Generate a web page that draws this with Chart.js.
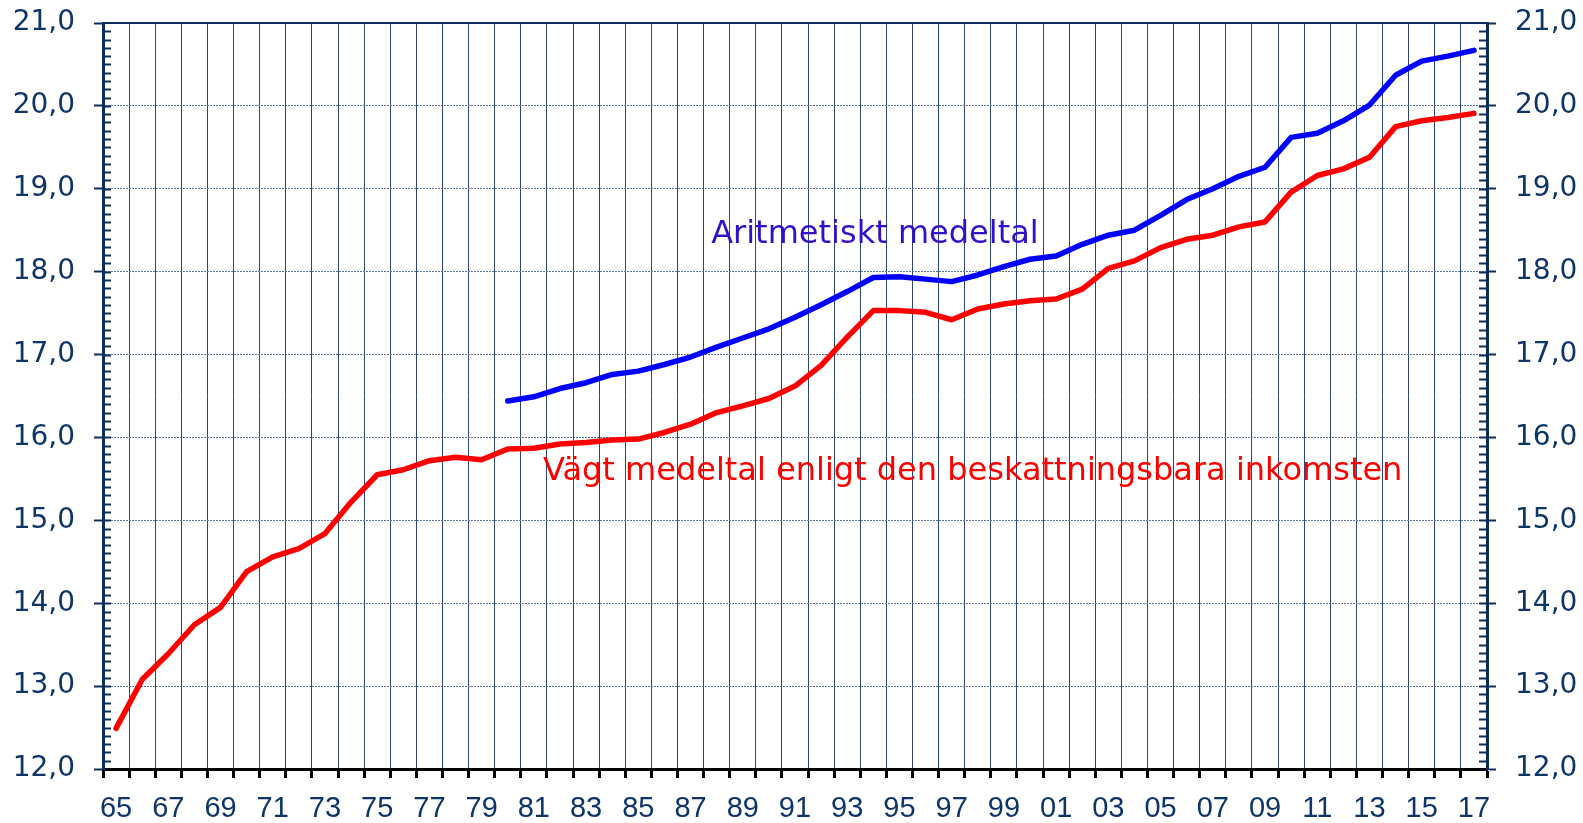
<!DOCTYPE html>
<html>
<head>
<meta charset="utf-8">
<script src="https://cdn.jsdelivr.net/npm/chart.js@4.4.1/dist/chart.umd.min.js"></script>
<style>
body { margin: 0; background: #ffffff; }
#ruta { width: 1583px; height: 823px; position: relative; }
</style>
</head>
<body>
<div id="ruta"><canvas id="diagram"></canvas></div>
<script>
// år 1965-2017, etiketter visas vartannat år
var ar = ['65','66','67','68','69','70','71','72','73','74','75','76','77','78','79',
	'80','81','82','83','84','85','86','87','88','89','90','91','92','93','94','95','96','97','98','99',
	'00','01','02','03','04','05','06','07','08','09','10','11','12','13','14','15','16','17'];

// vägt medeltal (röd), 1965-2017
var vagt = [12.49, 13.08, 13.39, 13.74, 13.95, 14.38, 14.56, 14.66, 14.84, 15.22,
	15.55, 15.61, 15.72, 15.76, 15.73, 15.86, 15.87, 15.92, 15.94, 15.97,
	15.98, 16.06, 16.16, 16.30, 16.38, 16.47, 16.62, 16.87, 17.21, 17.53,
	17.53, 17.51, 17.42, 17.55, 17.61, 17.65, 17.67, 17.79, 18.04, 18.13,
	18.29, 18.39, 18.44, 18.54, 18.60, 18.96, 19.16, 19.24, 19.38, 19.75,
	19.82, 19.86, 19.91];

// aritmetiskt medeltal (blå), börjar 1980
var aritm = [null, null, null, null, null, null, null, null, null, null, null, null, null, null, null,
	16.44, 16.49, 16.59, 16.66, 16.76, 16.80, 16.88, 16.97, 17.09, 17.20,
	17.31, 17.45, 17.60, 17.76, 17.93, 17.94, 17.91, 17.88,
	17.96, 18.06, 18.15, 18.19, 18.33, 18.44, 18.50, 18.68, 18.87, 19.00,
	19.15, 19.26, 19.62, 19.67, 19.82, 20.01, 20.37, 20.54, 20.60, 20.67];

var yMin = 12;
var yMax = 21;

// texter i diagrammet: [text, kategoriindex, värde (baslinje)]
var textAritm = ['Aritmetiskt medeltal', 22.79, 18.35];
var textVagt = ['Vägt medeltal enligt den beskattningsbara inkomsten', 16.35, 15.49];

var bla = '#0e3568';

function kommaTal(v) {
	return v.toFixed(1).replace('.', ',');
}

// y-axlarna ska inte skjuta ner ritytan
function fastBredd(w) {
	return function(scale) {
		scale.width = w;
		scale.paddingTop = 0;
		scale.paddingBottom = 0;
	};
}

var ramPlugin = {
	id: 'ram',
	afterDraw: function(chart) {
		var ctx = chart.ctx;
		var a = chart.chartArea;
		var sy = chart.scales.y;
		var sx = chart.scales.x;
		ctx.save();
		// ram upptill
		ctx.strokeStyle = '#0b2d5e';
		ctx.lineWidth = 2;
		ctx.beginPath();
		ctx.moveTo(a.left, a.top);
		ctx.lineTo(a.right, a.top);
		ctx.stroke();
		// små streck inåt på båda y-axlarna
		for (var i = 121; i <= 209; i++) {
			var py = Math.round(sy.getPixelForValue(i / 10)) + 0.5;
			ctx.beginPath();
			ctx.moveTo(a.left, py);
			ctx.lineTo(a.left + 8, py);
			ctx.moveTo(a.right, py);
			ctx.lineTo(a.right - 8, py);
			ctx.stroke();
		}
		// texter
		ctx.font = '32px "DejaVu Sans", Verdana, sans-serif';
		ctx.textAlign = 'left';
		ctx.textBaseline = 'alphabetic';
		ctx.fillStyle = '#3311cc';
		ctx.fillText(textAritm[0], sx.getPixelForValue(textAritm[1]), sy.getPixelForValue(textAritm[2]));
		ctx.fillStyle = '#ff0000';
		ctx.fillText(textVagt[0], sx.getPixelForValue(textVagt[1]), sy.getPixelForValue(textVagt[2]));
		ctx.restore();
	}
};

var chartdata = {
	labels: ar,
	datasets: [
		{
			label: 'Vägt medeltal',
			data: vagt,
			borderColor: '#ff0000',
			backgroundColor: '#ff0000',
			borderWidth: 5.5,
			borderCapStyle: 'round',
			borderJoinStyle: 'round',
			pointRadius: 0,
			fill: false,
			yAxisID: 'y'
		},
		{
			label: 'Aritmetiskt medeltal',
			data: aritm,
			borderColor: '#0000ff',
			backgroundColor: '#0000ff',
			borderWidth: 5.5,
			borderCapStyle: 'round',
			borderJoinStyle: 'round',
			pointRadius: 0,
			fill: false,
			yAxisID: 'y'
		}
	]
};

var ctx = document.getElementById('diagram');

var diagram = new Chart(ctx, {
	type: 'line',
	data: chartdata,
	plugins: [ramPlugin],
	options: {
		responsive: true,
		maintainAspectRatio: false,
		animation: false,
		layout: { padding: { top: 23, left: 0, right: 0, bottom: 0 } },
		plugins: {
			legend: { display: false },
			tooltip: { enabled: false }
		},
		scales: {
			x: {
				offset: true,
				grid: {
					offset: true,
					color: '#2a4775',
					lineWidth: 1,
					tickColor: '#000000',
					tickWidth: 3,
					tickLength: 9
				},
				border: { color: '#000000', width: 3 },
				ticks: {
					autoSkip: false,
					maxRotation: 0,
					padding: 14,
					color: bla,
					font: { family: '"Liberation Sans Narrow", "Arial Narrow", "Liberation Sans", sans-serif', size: 29 },
					callback: function(val, index) {
						return index % 2 === 0 ? ar[index] : '';
					}
				},
				afterFit: function(scale) { scale.height = 54; }
			},
			y: {
				position: 'left',
				min: yMin,
				max: yMax,
				grid: {
					color: '#5a7397',
					lineWidth: 1,
					tickColor: '#0b2d5e',
					tickWidth: 2,
					tickLength: 9
				},
				border: { color: '#0b2d5e', width: 3, dash: [2, 1] },
				ticks: {
					stepSize: 1,
					padding: 19,
					color: bla,
					font: { family: '"DejaVu Sans", Verdana, sans-serif', size: 28 },
					callback: function(v) { return kommaTal(v); }
				},
				afterFit: fastBredd(103)
			},
			y2: {
				position: 'right',
				min: yMin,
				max: yMax,
				grid: {
					drawOnChartArea: false,
					tickColor: '#0b2d5e',
					tickWidth: 2,
					tickLength: 9
				},
				border: { color: '#0b2d5e', width: 3 },
				ticks: {
					stepSize: 1,
					padding: 19,
					color: bla,
					font: { family: '"DejaVu Sans", Verdana, sans-serif', size: 28 },
					callback: function(v) { return kommaTal(v); }
				},
				afterFit: fastBredd(96)
			}
		}
	}
});
</script>
</body>
</html>
